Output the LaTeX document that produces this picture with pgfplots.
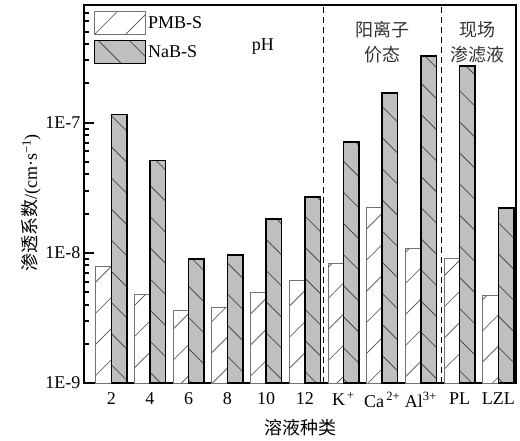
\documentclass[border=0pt]{standalone}
\usepackage{fontspec}
\setmainfont{Liberation Serif}
\newfontfamily\cjk{Noto Sans CJK SC}
\usepackage{pgfplots}
\usepackage{pgfplotstable}
\pgfplotsset{compat=1.18}
\usetikzlibrary{patterns.meta}

\pgfplotstableread{
x pmb nab
0 7.8e-9 1.15e-7
1 4.8e-9 5.1e-8
2 3.6e-9 9.0e-9
3 3.8e-9 9.6e-9
4 5.0e-9 1.82e-8
5 6.1e-9 2.68e-8
6 8.3e-9 7.1e-8
7 2.23e-8 1.69e-7
8 1.07e-8 3.24e-7
9 9.1e-9 2.71e-7
10 4.7e-9 2.21e-8
}\datatable

\begin{document}
\begin{tikzpicture}[font=\fontsize{18}{21}\selectfont]
\begin{axis}[
  scale only axis, width=432pt, height=378pt,
  ymode=log, ymin=1e-9, ymax=8e-7, log origin=infty,
  xmin=-0.705, xmax=10.457,
  ybar=0pt, bar width=0.4,
  xtick={0,...,10},
  xticklabels={2,4,6,8,10,12,K\textsuperscript{\,+},Ca\textsuperscript{\,2+},Al\textsuperscript{3+},PL,LZL},
  xticklabel style={yshift=-6pt},
  x tick style={draw=none},
  ytick={1e-9,1e-8,1e-7}, yticklabels={1E-9,1E-8,1E-7},
  minor ytick={2e-9,3e-9,4e-9,5e-9,6e-9,7e-9,8e-9,9e-9,2e-8,3e-8,4e-8,5e-8,6e-8,7e-8,8e-8,9e-8,2e-7,3e-7,4e-7,5e-7,6e-7,7e-7,8e-7},
  ytick pos=left, tick align=inside,
  major tick length=10pt, minor tick length=5pt,
  y tick style={black, line width=2pt},
  minor y tick style={black, line width=2pt},
  axis line style={line width=2.5pt},
  xlabel={\cjk 溶液种类},
  ylabel={{\cjk 渗透系数}/(cm·s\textsuperscript{−1})},
  xlabel style={yshift=-5pt},
  ylabel style={yshift=-2pt, xshift=-9pt},
  legend style={at={(0.015,0.99)}, anchor=north west, draw=none, fill=none,
    row sep=5pt, font=\fontsize{18}{21}\selectfont},
  legend cell align=left,
  legend image code/.code={\draw[#1] (0pt,-11.5pt) rectangle (51pt,11.5pt);},
]
\addplot[fill=white, draw=black!55, line width=1pt, bar shift=-0.2,
  postaction={pattern={Lines[angle=45,distance=22pt,line width=0.8pt]}, pattern color=black!60}]
  table[x=x, y=pmb] {\datatable};
\addlegendentry{PMB-S}
\addplot[fill=black!25, draw=black, line width=1.5pt, bar shift=0.2,
  postaction={pattern={Lines[angle=-45,distance=22pt,line width=0.8pt]}, pattern color=black!70}]
  table[x=x, y=nab] {\datatable};
\addlegendentry{NaB-S}
\draw[line width=1pt, dash pattern=on 6pt off 4pt] (axis cs:5.48,1e-9) -- (axis cs:5.48,8e-7);
\draw[line width=1pt, dash pattern=on 6pt off 4pt] (axis cs:8.54,1e-9) -- (axis cs:8.54,8e-7);
\node at (rel axis cs:0.414,0.889) {pH};
\node[align=center, font=\cjk\fontsize{18}{25}\selectfont, text=black!80] at (rel axis cs:0.692,0.901) {阳离子\\价态};
\node[align=center, font=\cjk\fontsize{18}{25}\selectfont, text=black!80] at (rel axis cs:0.912,0.901) {现场\\渗滤液};
\end{axis}
\pgfresetboundingbox
\path[use as bounding box] ([xshift=-84pt,yshift=-57pt]current axis.south west) rectangle ([xshift=4pt,yshift=5pt]current axis.north east);
\end{tikzpicture}
\end{document}
